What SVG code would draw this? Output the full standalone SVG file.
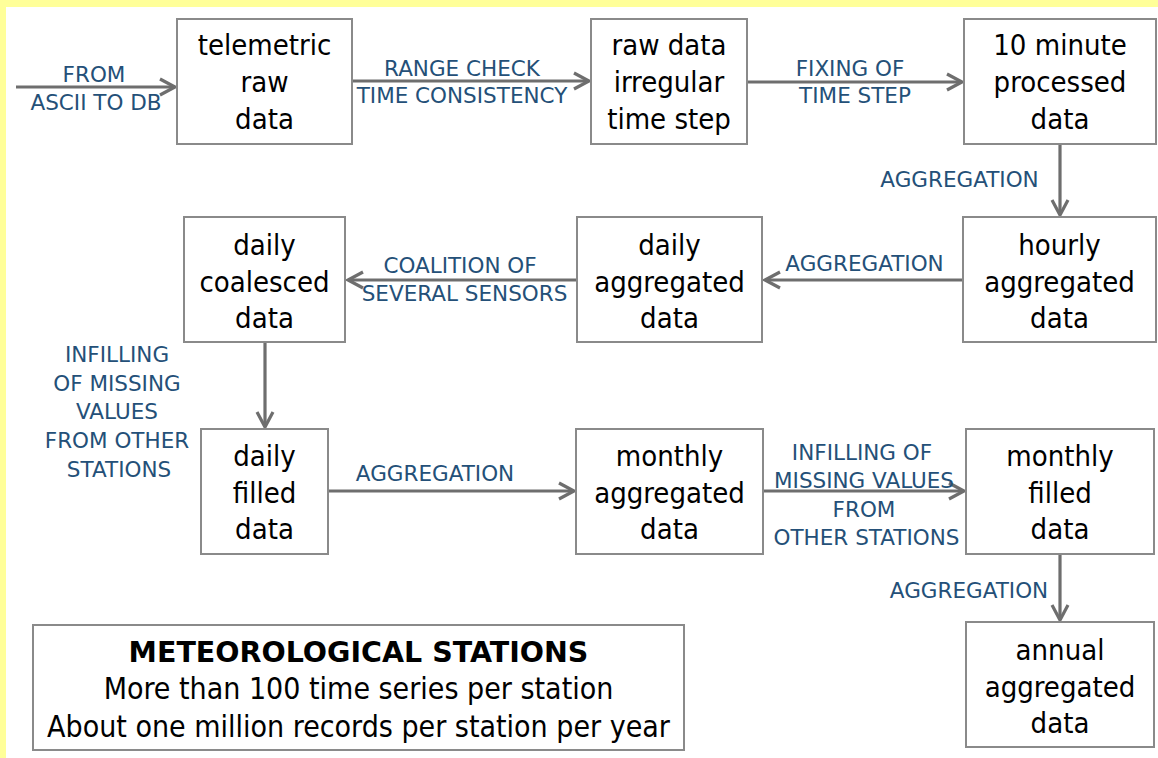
<svg xmlns="http://www.w3.org/2000/svg" width="1158" height="758" viewBox="0 0 1158 758">
<style>
.box{fill:#fff;stroke:#8a8a8a;stroke-width:2}
.nt{font-family:"DejaVu Sans Condensed","DejaVu Sans",sans-serif;font-stretch:condensed;font-size:29px;fill:#000;text-anchor:middle}
.lb{font-family:"DejaVu Sans",Verdana,sans-serif;font-size:21.5px;fill:#245078;text-anchor:middle}
.cn{stroke:#6e6e6e;stroke-width:3.2;fill:none;marker-end:url(#ah)}
.it{font-family:"DejaVu Sans Condensed","DejaVu Sans",sans-serif;font-stretch:condensed;font-size:30px;fill:#000;text-anchor:middle}
.ib{font-family:"DejaVu Sans",Verdana,sans-serif;font-size:28.5px;font-weight:bold;fill:#000;text-anchor:middle}
</style>
<defs>
<marker id="ah" markerUnits="userSpaceOnUse" markerWidth="24" markerHeight="24" refX="0" refY="0" viewBox="-20 -12 24 24" orient="auto">
<path d="M-15,-8 L0,0 L-15,8" fill="none" stroke="#6e6e6e" stroke-width="3.2" stroke-linejoin="miter"/>
</marker>
</defs>
<rect x="0" y="0" width="1158" height="758" fill="#fff"/>
<rect x="0" y="0" width="1158" height="7" fill="#ffff99"/>
<rect x="0" y="0" width="6" height="758" fill="#ffff99"/>

<g id="connectors">
<line class="cn" x1="16" y1="87" x2="175" y2="87"/>
<line class="cn" x1="352" y1="81" x2="589" y2="81"/>
<line class="cn" x1="747" y1="82" x2="962" y2="82"/>
<line class="cn" x1="1060" y1="144" x2="1060" y2="215"/>
<line class="cn" x1="963" y1="280" x2="765" y2="280"/>
<line class="cn" x1="577" y1="280" x2="348" y2="280"/>
<line class="cn" x1="265" y1="342" x2="265" y2="427"/>
<line class="cn" x1="328" y1="491" x2="574" y2="491"/>
<line class="cn" x1="763" y1="491" x2="964" y2="491"/>
<line class="cn" x1="1060" y1="554" x2="1060" y2="620"/>
<text class="lb" x="94" y="82">FROM</text>
<text class="lb" x="96" y="110">ASCII TO DB</text>
<text class="lb" x="462" y="76">RANGE CHECK</text>
<text class="lb" x="462" y="103">TIME CONSISTENCY</text>
<text class="lb" x="850" y="76">FIXING OF</text>
<text class="lb" x="855" y="103">TIME STEP</text>
<text class="lb" x="959.5" y="187">AGGREGATION</text>
<text class="lb" x="864.5" y="271">AGGREGATION</text>
<text class="lb" x="460" y="273">COALITION OF</text>
<text class="lb" x="464.5" y="301">SEVERAL SENSORS</text>
<text class="lb" x="117" y="362">INFILLING</text>
<text class="lb" x="117" y="391">OF MISSING</text>
<text class="lb" x="117" y="419">VALUES</text>
<text class="lb" x="117" y="448">FROM OTHER</text>
<text class="lb" x="119" y="477">STATIONS</text>
<text class="lb" x="435" y="481">AGGREGATION</text>
<text class="lb" x="862" y="459.5">INFILLING OF</text>
<text class="lb" x="864" y="488">MISSING VALUES</text>
<text class="lb" x="864" y="516.5">FROM</text>
<text class="lb" x="866.5" y="545">OTHER STATIONS</text>
<text class="lb" x="969" y="598">AGGREGATION</text>
</g>

<g id="n1"><rect class="box" x="177" y="19" width="175" height="125"/>
<text class="nt" x="264.5" y="55">telemetric</text><text class="nt" x="264.5" y="92">raw</text><text class="nt" x="264.5" y="129">data</text></g>
<g id="n2"><rect class="box" x="591" y="19" width="156" height="125"/>
<text class="nt" x="669" y="55">raw data</text><text class="nt" x="669" y="92">irregular</text><text class="nt" x="669" y="129">time step</text></g>
<g id="n3"><rect class="box" x="964" y="19" width="192" height="125"/>
<text class="nt" x="1060" y="55">10 minute</text><text class="nt" x="1060" y="92">processed</text><text class="nt" x="1060" y="129">data</text></g>
<g id="n4"><rect class="box" x="963" y="217" width="193" height="125"/>
<text class="nt" x="1059.5" y="255">hourly</text><text class="nt" x="1059.5" y="292">aggregated</text><text class="nt" x="1059.5" y="328">data</text></g>
<g id="n5"><rect class="box" x="577" y="217" width="185" height="125"/>
<text class="nt" x="669.5" y="255">daily</text><text class="nt" x="669.5" y="292">aggregated</text><text class="nt" x="669.5" y="328">data</text></g>
<g id="n6"><rect class="box" x="184" y="217" width="161" height="125"/>
<text class="nt" x="264.5" y="255">daily</text><text class="nt" x="264.5" y="292">coalesced</text><text class="nt" x="264.5" y="328">data</text></g>
<g id="n7"><rect class="box" x="201" y="429" width="127" height="125"/>
<text class="nt" x="264.5" y="466">daily</text><text class="nt" x="264.5" y="503">filled</text><text class="nt" x="264.5" y="539">data</text></g>
<g id="n8"><rect class="box" x="576" y="429" width="187" height="125"/>
<text class="nt" x="669.5" y="466">monthly</text><text class="nt" x="669.5" y="503">aggregated</text><text class="nt" x="669.5" y="539">data</text></g>
<g id="n9"><rect class="box" x="966" y="429" width="188" height="125"/>
<text class="nt" x="1060" y="466">monthly</text><text class="nt" x="1060" y="503">filled</text><text class="nt" x="1060" y="539">data</text></g>
<g id="n10"><rect class="box" x="966" y="622" width="188" height="125"/>
<text class="nt" x="1060" y="660">annual</text><text class="nt" x="1060" y="697">aggregated</text><text class="nt" x="1060" y="733">data</text></g>
<g id="info"><rect class="box" x="33" y="625" width="651" height="125"/>
<text class="ib" x="358.5" y="662">METEOROLOGICAL STATIONS</text>
<text class="it" x="358.5" y="699">More than 100 time series per station</text>
<text class="it" x="358.5" y="737">About one million records per station per year</text></g>
</svg>
